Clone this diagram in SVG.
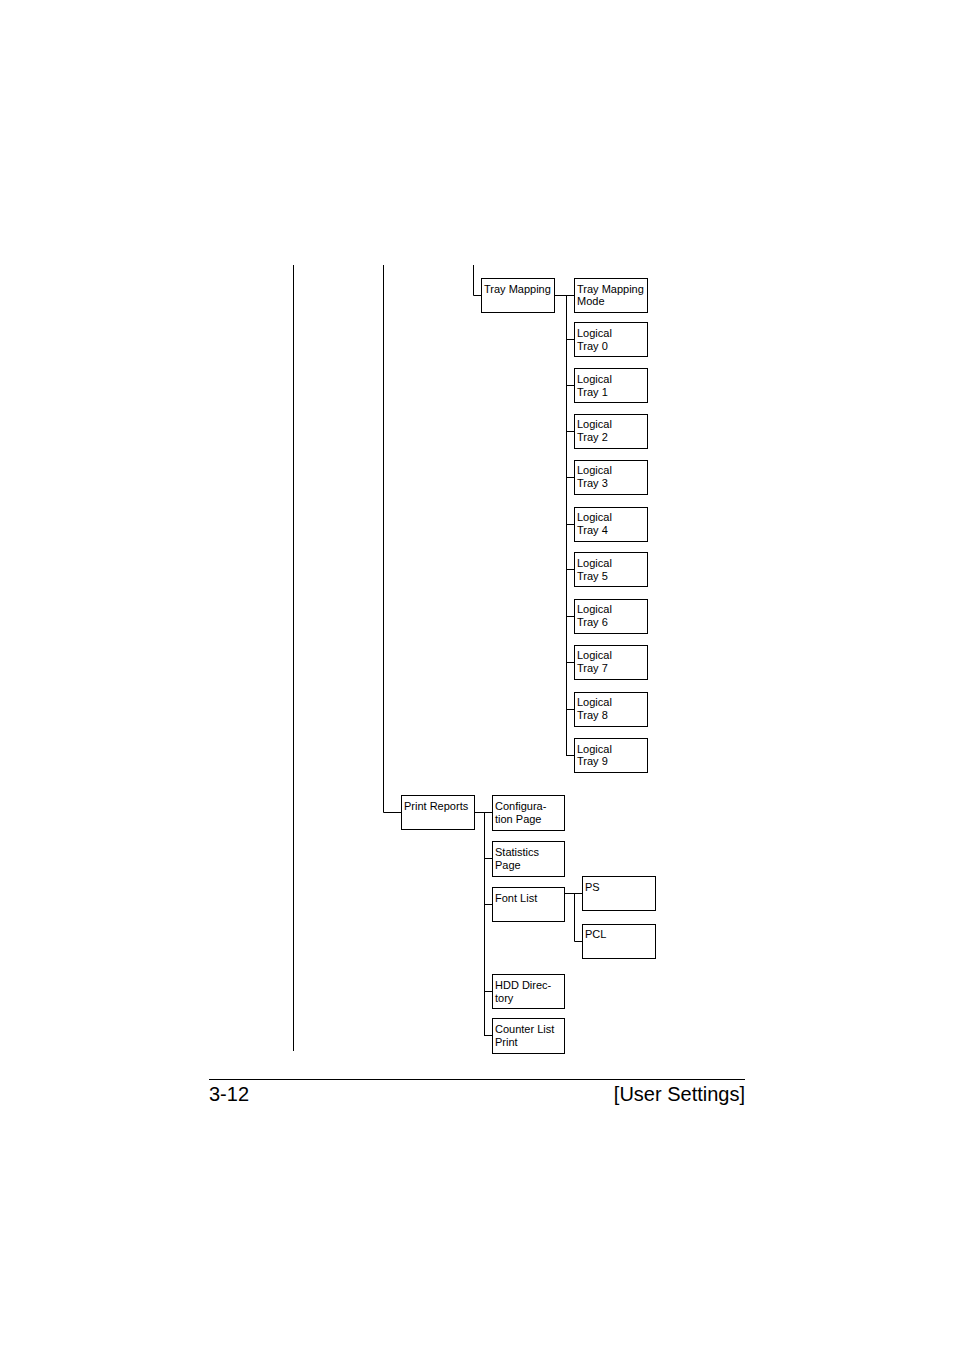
<svg xmlns="http://www.w3.org/2000/svg" width="954" height="1350" viewBox="0 0 954 1350">
<style>
rect{fill:#fff;stroke:#000;stroke-width:1}
rect.bg{stroke:none}
.c line,.c polyline{stroke:#000;stroke-width:1;fill:none}
text{font-family:"Liberation Sans",Arial,sans-serif;font-size:11px;fill:#000}
.f{font-size:20px}
</style>
<rect class="bg" width="954" height="1350"/>
<g class="c" id="connectors">
<line x1="293.5" y1="265" x2="293.5" y2="1051"/>
<polyline points="383.5,265 383.5,812.5 401,812.5"/>
<polyline points="473.5,265 473.5,295.5 481,295.5"/>
<line x1="554" y1="295.5" x2="574" y2="295.5"/>
<line x1="566.5" y1="295.5" x2="566.5" y2="755.5"/>
<line x1="566" y1="339.5" x2="574" y2="339.5"/>
<line x1="566" y1="385.5" x2="574" y2="385.5"/>
<line x1="566" y1="431.5" x2="574" y2="431.5"/>
<line x1="566" y1="477.5" x2="574" y2="477.5"/>
<line x1="566" y1="524.5" x2="574" y2="524.5"/>
<line x1="566" y1="569.5" x2="574" y2="569.5"/>
<line x1="566" y1="616.5" x2="574" y2="616.5"/>
<line x1="566" y1="662.5" x2="574" y2="662.5"/>
<line x1="566" y1="709.5" x2="574" y2="709.5"/>
<line x1="566" y1="755.5" x2="574" y2="755.5"/>
<line x1="474" y1="812.5" x2="492" y2="812.5"/>
<line x1="484.5" y1="812.5" x2="484.5" y2="1035.5"/>
<line x1="484" y1="858.5" x2="492" y2="858.5"/>
<line x1="484" y1="904.5" x2="492" y2="904.5"/>
<line x1="484" y1="991.5" x2="492" y2="991.5"/>
<line x1="484" y1="1035.5" x2="492" y2="1035.5"/>
<line x1="564" y1="893.5" x2="582" y2="893.5"/>
<polyline points="574.5,893.5 574.5,941.5 582,941.5"/>
<line x1="209" y1="1079.5" x2="745" y2="1079.5"/>
</g>
<g id="tray-mapping"><rect x="481.5" y="278.5" width="73" height="34"/><text x="484" y="293">Tray Mapping</text></g>
<g id="tray-mapping-mode"><rect x="574.5" y="278.5" width="73" height="34"/><text x="577" y="293">Tray Mapping</text><text x="577" y="305">Mode</text></g>
<g id="lt0"><rect x="574.5" y="322.5" width="73" height="34"/><text x="577" y="337">Logical</text><text x="577" y="350">Tray 0</text></g>
<g id="lt1"><rect x="574.5" y="368.5" width="73" height="34"/><text x="577" y="383">Logical</text><text x="577" y="396">Tray 1</text></g>
<g id="lt2"><rect x="574.5" y="414.5" width="73" height="34"/><text x="577" y="428">Logical</text><text x="577" y="441">Tray 2</text></g>
<g id="lt3"><rect x="574.5" y="460.5" width="73" height="34"/><text x="577" y="474">Logical</text><text x="577" y="487">Tray 3</text></g>
<g id="lt4"><rect x="574.5" y="507.5" width="73" height="34"/><text x="577" y="521">Logical</text><text x="577" y="534">Tray 4</text></g>
<g id="lt5"><rect x="574.5" y="552.5" width="73" height="34"/><text x="577" y="567">Logical</text><text x="577" y="580">Tray 5</text></g>
<g id="lt6"><rect x="574.5" y="599.5" width="73" height="34"/><text x="577" y="613">Logical</text><text x="577" y="626">Tray 6</text></g>
<g id="lt7"><rect x="574.5" y="645.5" width="73" height="34"/><text x="577" y="659">Logical</text><text x="577" y="672">Tray 7</text></g>
<g id="lt8"><rect x="574.5" y="692.5" width="73" height="34"/><text x="577" y="706">Logical</text><text x="577" y="719">Tray 8</text></g>
<g id="lt9"><rect x="574.5" y="738.5" width="73" height="34"/><text x="577" y="753">Logical</text><text x="577" y="765">Tray 9</text></g>
<g id="print-reports"><rect x="401.5" y="795.5" width="73" height="34"/><text x="404" y="810">Print Reports</text></g>
<g id="config"><rect x="492.5" y="795.5" width="72" height="35"/><text x="495" y="810">Configura-</text><text x="495" y="823">tion Page</text></g>
<g id="stats"><rect x="492.5" y="841.5" width="72" height="35"/><text x="495" y="856">Statistics</text><text x="495" y="869">Page</text></g>
<g id="font-list"><rect x="492.5" y="887.5" width="72" height="34"/><text x="495" y="902">Font List</text></g>
<g id="ps"><rect x="582.5" y="876.5" width="73" height="34"/><text x="585" y="891">PS</text></g>
<g id="pcl"><rect x="582.5" y="924.5" width="73" height="34"/><text x="585" y="938">PCL</text></g>
<g id="hdd"><rect x="492.5" y="974.5" width="72" height="34"/><text x="495" y="989">HDD Direc-</text><text x="495" y="1002">tory</text></g>
<g id="counter"><rect x="492.5" y="1018.5" width="72" height="35"/><text x="495" y="1033">Counter List</text><text x="495" y="1046">Print</text></g>
<text class="f" x="209" y="1101">3-12</text>
<text class="f" x="745" y="1101" text-anchor="end">[User Settings]</text>
</svg>
